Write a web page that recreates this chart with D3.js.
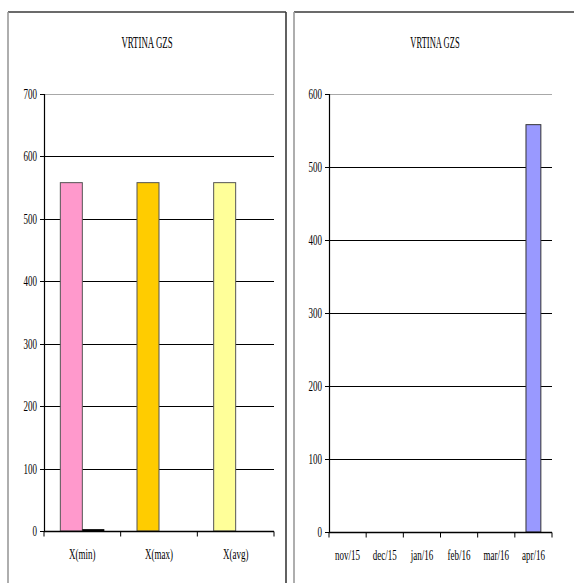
<!DOCTYPE html>
<html>
<head>
<meta charset="utf-8">
<script src="https://cdn.jsdelivr.net/npm/d3@7"></script>
<style>
  html, body { margin: 0; padding: 0; background: #fff; }
  svg { display: block; }
</style>
</head>
<body>
<script>
// Left chart: depth statistics for the borehole
const statCategories = ["X(min)", "X(max)", "X(avg)"];
const statSeries = ["depth", "marker"];
const statDepth = [558, 558, 558];
const statMarker = [3, 0, 0];
const statColors = ["#FF99CC", "#FFCC00", "#FFFF99"];
const statTicks = [0, 100, 200, 300, 400, 500, 600, 700];

// Right chart: monthly depth
const months = ["nov/15", "dec/15", "jan/16", "feb/16", "mar/16", "apr/16"];
const monthDepth = [0, 0, 0, 0, 0, 558];
const monthTicks = [0, 100, 200, 300, 400, 500, 600];

const chartTitle = "VRTINA GZS";

const W = 574, H = 583;
const FONT = "'Liberation Serif', 'Times New Roman', serif";

const svg = d3.select("body").append("svg").attr("width", W).attr("height", H);

// narrow serif lettering: squeeze glyphs horizontally by sx
function label(g, x, y, txt, size, anchor, sx = 0.6) {
  g.append("text")
    .attr("transform", `translate(${x},${y}) scale(${sx},1)`)
    .attr("text-anchor", anchor)
    .attr("dominant-baseline", "central")
    .attr("font-family", FONT)
    .attr("font-size", size)
    .attr("fill", "#000")
    .text(txt);
}

function frame(x0, x1, y0) {
  // top + right edges dark, left edge lighter
  svg.append("line").attr("x1", x0).attr("x2", x1).attr("y1", y0).attr("y2", y0)
    .attr("stroke", "#3a3a3a").attr("stroke-width", 1.6);
  svg.append("line").attr("x1", x0).attr("x2", x0).attr("y1", y0).attr("y2", H + 2)
    .attr("stroke", "#9a9a9a").attr("stroke-width", 1.6);
  if (x1 < W) {
    svg.append("line").attr("x1", x1).attr("x2", x1).attr("y1", y0).attr("y2", H + 2)
      .attr("stroke", "#3a3a3a").attr("stroke-width", 1.6);
  }
}

function yAxis(g, y, ticks, xLeft, xRight) {
  ticks.forEach((t, i) => {
    const py = Math.round(y(t)) + 0.5;
    if (t !== 0) {
      g.append("line").attr("x1", xLeft).attr("x2", xRight).attr("y1", py).attr("y2", py)
        .attr("stroke", i === ticks.length - 1 ? "#a8a8a8" : "#000").attr("stroke-width", 1);
    }
    g.append("line").attr("x1", xLeft - 4).attr("x2", xLeft).attr("y1", py).attr("y2", py)
      .attr("stroke", "#000");
    label(g, xLeft - 7, py, String(t), 15, "end");
  });
  g.append("line").attr("x1", xLeft + 0.5).attr("x2", xLeft + 0.5)
    .attr("y1", y(ticks[ticks.length - 1])).attr("y2", y(0))
    .attr("stroke", "#000").attr("stroke-width", 1.2);
}

function xAxis(g, x, y0) {
  const step = x.step();
  const r0 = x.range()[0];
  const n = x.domain().length;
  g.append("line").attr("x1", r0).attr("x2", x.range()[1]).attr("y1", y0).attr("y2", y0)
    .attr("stroke", "#000").attr("stroke-width", 1.6);
  for (let i = 0; i <= n; i++) {
    const px = r0 + i * step;
    g.append("line").attr("x1", px).attr("x2", px).attr("y1", y0).attr("y2", y0 + 5)
      .attr("stroke", "#000");
  }
  x.domain().forEach(d => {
    label(g, x(d) + x.bandwidth() / 2, y0 + 23, d, 15, "middle");
  });
}

// ---------- left chart ----------
frame(8, 286, 12);
{
  const g = svg.append("g");
  const y = d3.scaleLinear().domain([0, 700]).range([531, 94]);
  const x0 = d3.scaleBand().domain(statCategories).range([44, 274])
    .paddingInner(0.426).paddingOuter(0.213);
  const x1 = d3.scaleBand().domain(statSeries).range([0, x0.bandwidth()]);

  label(g, 147, 42, chartTitle, 17, "middle", 0.52);
  yAxis(g, y, statTicks, 44, 274);

  statCategories.forEach((c, i) => {
    g.append("rect")
      .attr("x", x0(c) + x1("depth")).attr("width", x1.bandwidth())
      .attr("y", y(statDepth[i])).attr("height", y(0) - y(statDepth[i]))
      .attr("fill", statColors[i]).attr("stroke", "#555").attr("stroke-width", 1);
    if (statMarker[i] > 0) {
      g.append("rect")
        .attr("x", x0(c) + x1("marker")).attr("width", x1.bandwidth())
        .attr("y", y(statMarker[i])).attr("height", y(0) - y(statMarker[i]))
        .attr("fill", "#000");
    }
  });
  xAxis(g, x0, 531.5);
}

// ---------- right chart ----------
frame(294, 580, 12);
{
  const g = svg.append("g");
  const y = d3.scaleLinear().domain([0, 600]).range([532, 94]);
  const x = d3.scaleBand().domain(months).range([329, 552])
    .paddingInner(0.6).paddingOuter(0.3);

  label(g, 435, 42, chartTitle, 17, "middle", 0.5);
  yAxis(g, y, monthTicks, 329, 552);

  months.forEach((m, i) => {
    if (monthDepth[i] > 0) {
      g.append("rect")
        .attr("x", x(m)).attr("width", x.bandwidth())
        .attr("y", y(monthDepth[i])).attr("height", y(0) - y(monthDepth[i]))
        .attr("fill", "#9999FF").attr("stroke", "#333").attr("stroke-width", 1);
    }
  });
  xAxis(g, x, 532.5);
}
</script>
</body>
</html>
